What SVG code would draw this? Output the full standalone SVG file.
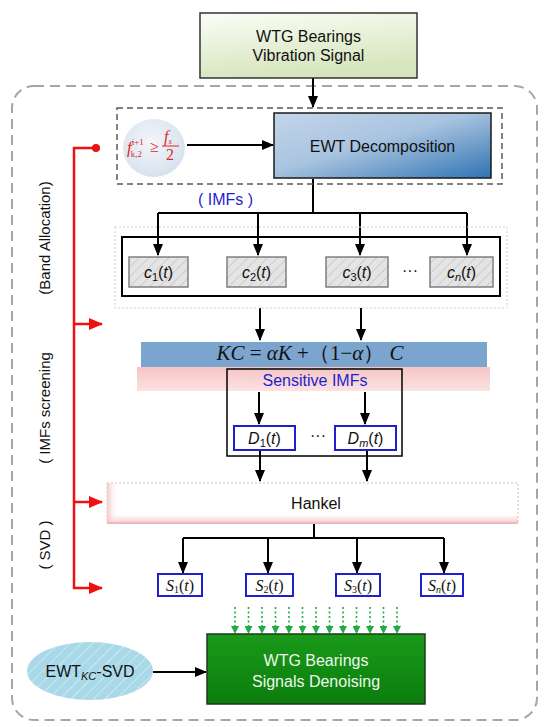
<svg xmlns="http://www.w3.org/2000/svg" width="550" height="727" viewBox="0 0 550 727">
<defs>
<style>
.t{font-family:"Liberation Sans",Arial,sans-serif;font-size:16px;fill:#111;}
.s{font-family:"Liberation Serif","Times New Roman",serif;fill:#111;}
.blue{fill:#1f1fcc;}
.cbox{fill:url(#hatch);stroke:#7f7f7f;stroke-width:1.5;}
.bbox{fill:#fff;stroke:#1f1fd0;stroke-width:2;}
.ln{fill:none;stroke:#000;stroke-width:2;}
.red{fill:none;stroke:#ee1111;stroke-width:2.5;}
.gr{fill:none;stroke:#22aa44;stroke-width:1.6;stroke-dasharray:2 2.5;}
.rf{font-family:"Liberation Serif","Times New Roman",serif;fill:#e02828;}
</style>
<marker id="ah" viewBox="0 0 12 10" refX="11" refY="5" markerWidth="12" markerHeight="10" markerUnits="userSpaceOnUse" orient="auto">
<path d="M0,0 L12,5 L0,10 z" fill="#000"/>
</marker>
<marker id="rh" viewBox="0 0 14 12" refX="13" refY="6" markerWidth="14" markerHeight="12" markerUnits="userSpaceOnUse" orient="auto">
<path d="M0,0 L14,6 L0,12 z" fill="#ee1111"/>
</marker>
<marker id="gh" viewBox="0 0 8 8" refX="7" refY="4" markerWidth="8" markerHeight="8" markerUnits="userSpaceOnUse" orient="auto">
<path d="M0,0 L8,4 L0,8 z" fill="#22aa44"/>
</marker>
<pattern id="hatch" width="7" height="7" patternUnits="userSpaceOnUse" patternTransform="rotate(45)">
<rect width="7" height="7" fill="#e4e4e4"/>
<line x1="0" y1="0" x2="0" y2="7" stroke="#c4c4c4" stroke-width="1.5"/>
</pattern>
<pattern id="hatchBlue" width="8" height="8" patternUnits="userSpaceOnUse" patternTransform="rotate(45)">
<rect width="8" height="8" fill="#a9d8e8"/>
<line x1="0" y1="0" x2="0" y2="8" stroke="#c9e8f2" stroke-width="2"/>
</pattern>
<linearGradient id="gTop" x1="0" y1="0" x2="0.3" y2="1">
<stop offset="0" stop-color="#fbfdf6"/>
<stop offset="1" stop-color="#d6e5bd"/>
</linearGradient>
<linearGradient id="gEwt" x1="0" y1="0" x2="1" y2="1">
<stop offset="0" stop-color="#c3d5ea"/>
<stop offset="0.45" stop-color="#a9c4e0"/>
<stop offset="1" stop-color="#2f73b2"/>
</linearGradient>
<radialGradient id="gCirc" cx="0.45" cy="0.4" r="0.6">
<stop offset="0" stop-color="#f3f6fa"/>
<stop offset="1" stop-color="#d7e2ee"/>
</radialGradient>
<linearGradient id="gPink" x1="0" y1="0" x2="0" y2="1">
<stop offset="0" stop-color="#f6c4c4"/>
<stop offset="1" stop-color="#fbe2e2"/>
</linearGradient>
<linearGradient id="gHank" x1="0" y1="0" x2="0" y2="1">
<stop offset="0" stop-color="#ffffff"/>
<stop offset="0.8" stop-color="#ffffff"/>
<stop offset="1" stop-color="#f6caca"/>
</linearGradient>
<linearGradient id="gHankL" x1="0" y1="0" x2="1" y2="0">
<stop offset="0" stop-color="#f3c3c3" stop-opacity="0.9"/>
<stop offset="1" stop-color="#ffffff" stop-opacity="0"/>
</linearGradient>
<linearGradient id="gGreen" x1="0" y1="0" x2="0" y2="1">
<stop offset="0" stop-color="#1a9a1a"/>
<stop offset="1" stop-color="#0b7d0b"/>
</linearGradient>
</defs>

<rect x="12" y="86" width="525" height="634" rx="22" fill="none" stroke="#a6a6a6" stroke-width="2" stroke-dasharray="10 6"/>

<g id="connectors">
<line class="ln" x1="313" y1="78" x2="313" y2="107" marker-end="url(#ah)"/>
<line class="ln" x1="187" y1="145" x2="273" y2="145" marker-end="url(#ah)"/>
<line class="ln" x1="313" y1="179" x2="313" y2="213"/>
<line class="ln" x1="158" y1="213" x2="467" y2="213"/>
<line class="ln" x1="158" y1="213" x2="158" y2="255" marker-end="url(#ah)"/>
<line class="ln" x1="258" y1="213" x2="258" y2="255" marker-end="url(#ah)"/>
<line class="ln" x1="360" y1="213" x2="360" y2="255" marker-end="url(#ah)"/>
<line class="ln" x1="467" y1="213" x2="467" y2="255" marker-end="url(#ah)"/>
<line class="ln" x1="260" y1="308" x2="260" y2="340" marker-end="url(#ah)"/>
<line class="ln" x1="361" y1="308" x2="361" y2="340" marker-end="url(#ah)"/>
<line class="ln" x1="259" y1="392" x2="259" y2="424" marker-end="url(#ah)"/>
<line class="ln" x1="365" y1="392" x2="365" y2="424" marker-end="url(#ah)"/>
<line class="ln" x1="260" y1="450" x2="260" y2="481" marker-end="url(#ah)"/>
<line class="ln" x1="367" y1="450" x2="367" y2="481" marker-end="url(#ah)"/>
<line class="ln" x1="314" y1="523" x2="314" y2="538"/>
<line class="ln" x1="183" y1="538" x2="444" y2="538"/>
<line class="ln" x1="183" y1="538" x2="183" y2="573" marker-end="url(#ah)"/>
<line class="ln" x1="268" y1="538" x2="268" y2="573" marker-end="url(#ah)"/>
<line class="ln" x1="357" y1="538" x2="357" y2="573" marker-end="url(#ah)"/>
<line class="ln" x1="444" y1="538" x2="444" y2="573" marker-end="url(#ah)"/>
<line class="ln" x1="153" y1="672" x2="206" y2="672" marker-end="url(#ah)"/>
<path class="red" d="M96,148 H74 V588 H102" marker-end="url(#rh)"/>
<circle cx="96" cy="148" r="4" fill="#ee1111"/>
<line class="red" x1="74" y1="324" x2="102" y2="324" marker-end="url(#rh)"/>
<line class="red" x1="74" y1="502" x2="102" y2="502" marker-end="url(#rh)"/>
<g>
<line class="gr" x1="235" y1="607" x2="235" y2="633" marker-end="url(#gh)"/>
<line class="gr" x1="248.5" y1="607" x2="248.5" y2="633" marker-end="url(#gh)"/>
<line class="gr" x1="262" y1="607" x2="262" y2="633" marker-end="url(#gh)"/>
<line class="gr" x1="275.5" y1="607" x2="275.5" y2="633" marker-end="url(#gh)"/>
<line class="gr" x1="289" y1="607" x2="289" y2="633" marker-end="url(#gh)"/>
<line class="gr" x1="302.5" y1="607" x2="302.5" y2="633" marker-end="url(#gh)"/>
<line class="gr" x1="316" y1="607" x2="316" y2="633" marker-end="url(#gh)"/>
<line class="gr" x1="329.5" y1="607" x2="329.5" y2="633" marker-end="url(#gh)"/>
<line class="gr" x1="343" y1="607" x2="343" y2="633" marker-end="url(#gh)"/>
<line class="gr" x1="356.5" y1="607" x2="356.5" y2="633" marker-end="url(#gh)"/>
<line class="gr" x1="370" y1="607" x2="370" y2="633" marker-end="url(#gh)"/>
<line class="gr" x1="383.5" y1="607" x2="383.5" y2="633" marker-end="url(#gh)"/>
<line class="gr" x1="397" y1="607" x2="397" y2="633" marker-end="url(#gh)"/>
</g>
</g>

<g id="input">
<rect x="200" y="13" width="217" height="65" fill="url(#gTop)" stroke="#333" stroke-width="1.5"/>
<text class="t" x="308.5" y="42" text-anchor="middle">WTG Bearings</text>
<text class="t" x="308.5" y="61" text-anchor="middle">Vibration Signal</text>
</g>

<g id="ewt-stage">
<rect x="117" y="108" width="385" height="76" fill="none" stroke="#595959" stroke-width="1.5" stroke-dasharray="6 4"/>
</g>

<g id="condition">
<ellipse cx="154" cy="148" rx="31" ry="29" fill="url(#gCirc)"/>
<text class="rf" font-size="17" font-style="italic" x="127" y="153">f<tspan font-size="9" font-style="normal" dy="-8">i+1</tspan><tspan font-size="9" font-style="normal" dx="-13" dy="12">k,2</tspan></text>
<text class="rf" font-size="16" x="150" y="152">≥</text>
<text class="rf" font-size="16" font-style="italic" x="164" y="142">f<tspan font-size="9" dy="2">s</tspan></text>
<line x1="162" y1="146" x2="179" y2="146" stroke="#e02828" stroke-width="1"/>
<text class="rf" font-size="16" x="166" y="160">2</text>
</g>

<g id="ewt">
<rect x="274" y="113" width="217" height="65" fill="url(#gEwt)" stroke="#1a1a1a" stroke-width="1.5"/>
<text class="t" x="382.5" y="152" text-anchor="middle">EWT Decomposition</text>
</g>

<text class="t blue" x="225.5" y="205" text-anchor="middle">( IMFs )</text>

<g id="imfs">
<rect x="115" y="227" width="392" height="81" fill="none" stroke="#d4d4d4" stroke-width="1" stroke-dasharray="2 2"/>
<rect x="122" y="237" width="378" height="59" fill="none" stroke="#000" stroke-width="2"/>
</g>
<g id="c1"><rect class="cbox" x="129" y="257" width="59" height="30"/><text class="t" x="158.5" y="278" text-anchor="middle"><tspan font-style="italic">c</tspan><tspan font-size="11" dy="3">1</tspan><tspan dy="-3">(</tspan><tspan font-style="italic">t</tspan>)</text></g>
<g id="c2"><rect class="cbox" x="227" y="257" width="59" height="30"/><text class="t" x="256.5" y="278" text-anchor="middle"><tspan font-style="italic">c</tspan><tspan font-size="11" dy="3">2</tspan><tspan dy="-3">(</tspan><tspan font-style="italic">t</tspan>)</text></g>
<g id="c3"><rect class="cbox" x="326" y="257" width="62" height="30"/><text class="t" x="357" y="278" text-anchor="middle"><tspan font-style="italic">c</tspan><tspan font-size="11" dy="3">3</tspan><tspan dy="-3">(</tspan><tspan font-style="italic">t</tspan>)</text></g>
<text class="t" x="410" y="276" text-anchor="middle">···</text>
<g id="cn"><rect class="cbox" x="430" y="257" width="63" height="30"/><text class="t" x="461.5" y="278" text-anchor="middle"><tspan font-style="italic">c</tspan><tspan font-size="11" font-style="italic" dy="3">n</tspan><tspan dy="-3">(</tspan><tspan font-style="italic">t</tspan>)</text></g>

<g id="kc">
<rect x="137" y="367" width="353" height="24" fill="url(#gPink)"/>
<rect x="141" y="342" width="346" height="25" fill="#7ba4cf"/>
<text class="s" font-size="21" x="310" y="360" text-anchor="middle"><tspan font-style="italic">KC</tspan> = <tspan font-style="italic">αK</tspan> +（1−<tspan font-style="italic">α</tspan>） <tspan font-style="italic">C</tspan></text>
</g>

<g id="sensitive">
<rect x="227" y="369" width="175" height="87" fill="none" stroke="#000" stroke-width="1.5"/>
<text class="t blue" x="315" y="386" text-anchor="middle">Sensitive IMFs</text>
</g>
<g id="d1"><rect class="bbox" x="234" y="426" width="61" height="24"/><text class="t" x="264.5" y="444" text-anchor="middle"><tspan font-style="italic">D</tspan><tspan font-size="11" dy="3">1</tspan><tspan dy="-3">(</tspan><tspan font-style="italic">t</tspan>)</text></g>
<text class="t" x="318" y="441" text-anchor="middle">···</text>
<g id="dm"><rect class="bbox" x="335" y="426" width="61" height="24"/><text class="t" x="365.5" y="444" text-anchor="middle"><tspan font-style="italic">D</tspan><tspan font-size="11" font-style="italic" dy="3">m</tspan><tspan dy="-3">(</tspan><tspan font-style="italic">t</tspan>)</text></g>

<g id="hankel">
<rect x="107" y="483" width="411" height="40" fill="url(#gHank)" stroke="#e3b8b8" stroke-width="1" stroke-dasharray="2 2"/>
<rect x="107" y="483" width="12" height="40" fill="url(#gHankL)"/>
<line x1="107" y1="523" x2="518" y2="523" stroke="#f0b8b8" stroke-width="2"/>
<text class="t" x="316" y="509" text-anchor="middle">Hankel</text>
</g>

<g id="s1"><rect class="bbox" x="158" y="574" width="44" height="22"/><text class="s" font-size="16" x="180" y="591" text-anchor="middle"><tspan font-style="italic">S</tspan><tspan font-size="10" dy="2">1</tspan><tspan dy="-2">(</tspan><tspan font-style="italic">t</tspan>)</text></g>
<g id="s2"><rect class="bbox" x="246" y="574" width="47" height="22"/><text class="s" font-size="16" x="269.5" y="591" text-anchor="middle"><tspan font-style="italic">S</tspan><tspan font-size="10" dy="2">2</tspan><tspan dy="-2">(</tspan><tspan font-style="italic">t</tspan>)</text></g>
<g id="s3"><rect class="bbox" x="336" y="574" width="44" height="22"/><text class="s" font-size="16" x="358" y="591" text-anchor="middle"><tspan font-style="italic">S</tspan><tspan font-size="10" dy="2">3</tspan><tspan dy="-2">(</tspan><tspan font-style="italic">t</tspan>)</text></g>
<g id="sn"><rect class="bbox" x="421" y="574" width="42" height="22"/><text class="s" font-size="16" x="442" y="591" text-anchor="middle"><tspan font-style="italic">S</tspan><tspan font-size="10" font-style="italic" dy="2">n</tspan><tspan dy="-2">(</tspan><tspan font-style="italic">t</tspan>)</text></g>

<g id="output">
<rect x="207" y="634" width="218" height="70" fill="url(#gGreen)" stroke="#1c3a1c" stroke-width="1.5"/>
<text class="t" style="fill:#eef8ee" x="316" y="666" text-anchor="middle">WTG Bearings</text>
<text class="t" style="fill:#eef8ee" x="316" y="687" text-anchor="middle">Signals Denoising</text>
</g>

<g id="method">
<ellipse cx="90" cy="671" rx="63" ry="29" fill="url(#hatchBlue)"/>
<text class="t" x="90" y="677" text-anchor="middle">EWT<tspan font-size="11" font-style="italic" dy="3">KC</tspan><tspan dy="-3">-SVD</tspan></text>
</g>

<g id="stage-labels">
<text class="t" style="font-size:15px" transform="translate(50,238) rotate(-90)" text-anchor="middle">(Band Allocation)</text>
<text class="t" style="font-size:15px" transform="translate(50,408) rotate(-90)" text-anchor="middle">( IMFs screening</text>
<text class="t" style="font-size:15px" transform="translate(50,545) rotate(-90)" text-anchor="middle">( SVD )</text>
</g>
</svg>
